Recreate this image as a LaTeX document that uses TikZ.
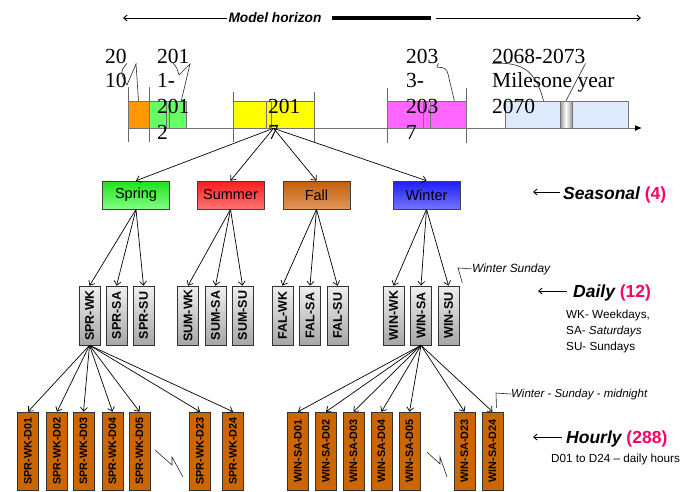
\documentclass[tikz,border=0pt]{standalone}
\usepackage{fontspec}
\setmainfont{Liberation Serif}
\setsansfont{Liberation Sans}
\usetikzlibrary{arrows.meta}

\definecolor{tlorange}{RGB}{255,153,0}
\definecolor{tlgreen}{RGB}{102,255,102}
\definecolor{tlyellow}{RGB}{255,255,0}
\definecolor{tlmagenta}{RGB}{255,102,255}
\definecolor{tlblue}{RGB}{221,235,252}
\definecolor{hourbrown}{RGB}{204,102,0}
\definecolor{countpink}{RGB}{255,0,102}

\tikzset{
    tlbox/.style={draw=black!55, line width=0.6pt, minimum height=27pt, inner sep=0pt},
    seasonbox/.style={draw=black!75, line width=0.6pt, minimum width=67pt, minimum height=28pt, inner sep=0pt, font=\sffamily\fontsize{14.5}{14.5}\selectfont},
    daybox/.style={draw=black!80, line width=0.6pt, rotate=90, minimum width=59pt, minimum height=21pt, inner sep=0pt, top color=gray!12, bottom color=gray!70, font=\sffamily\bfseries\fontsize{12.5}{12.5}\selectfont},
    hourbox/.style={draw=black!80, line width=0.6pt, fill=hourbrown, rotate=90, minimum width=78pt, minimum height=21pt, inner sep=0pt, font=\sffamily\bfseries\fontsize{10.8}{10.8}\selectfont},
    year/.style={anchor=base west, inner sep=0pt, font=\fontsize{21.5}{21.5}\selectfont},
    flow/.style={-{Straight Barb[length=4pt,width=7pt]}, line width=0.7pt},
    hint/.style={-{Straight Barb[length=3.5pt,width=6pt]}, line width=0.9pt},
    callout/.style={black!85, line width=0.6pt},
    levellbl/.style={anchor=base west, inner sep=0pt, font=\sffamily\bfseries\itshape\fontsize{17.5}{17.5}\selectfont},
    note/.style={anchor=base west, inner sep=0pt, font=\sffamily\fontsize{11.7}{11.7}\selectfont}
}

\begin{document}
\begin{tikzpicture}[x=1pt, y=-1pt]
    \useasboundingbox (0,0) rectangle (681,491);

    \node[inner sep=1pt, font=\sffamily\bfseries\itshape\fontsize{13.7}{13.7}\selectfont] (horizon) at (275,18) {Model horizon};
    \coordinate (hzleft) at (123,18);
    \coordinate (hzright) at (641,18);
    \coordinate (barstart) at (332,18);
    \coordinate (barend) at (431,18);
    \coordinate (linestart) at (436,18);
    \draw[hint] (horizon.west) -- (hzleft);
    \draw[line width=3.5pt] (barstart) -- (barend);
    \draw[hint] (linestart) -- (hzright);

    \coordinate (axisstart) at (128,128);
    \coordinate (axisend) at (642,128);
    \draw[black!55, line width=1pt, -{Latex[length=7pt,width=6pt,black]}] (axisstart) -- (axisend);
    \foreach \x/\a/\b in {128/87/142, 149/87/142, 233/92/142, 314/92/142, 387/88/143, 466/88/143}
        \draw[black!60, line width=0.6pt] (\x,\a) -- (\x,\b);

    \node[tlbox, fill=tlorange, minimum width=21pt] (y2010) at (138.5,114.5) {};
    \node[tlbox, fill=tlgreen, minimum width=37pt] (y2011) at (167.5,114.5) {};
    \node[tlbox, fill=tlyellow, minimum width=81pt] (y2017) at (273.5,114.5) {};
    \node[tlbox, fill=tlmagenta, minimum width=79pt] (y2033) at (426.5,114.5) {};
    \node[tlbox, fill=tlblue, minimum width=123pt] (y2068) at (566.5,114.5) {};
    \node[tlbox, fill=tlgreen, minimum width=3pt] (m2012) at (167.5,114.5) {};
    \node[tlbox, fill=tlyellow, minimum width=5pt] (m2017) at (269,114.5) {};
    \node[tlbox, fill=tlmagenta, minimum width=7pt] (m2037) at (427,114.5) {};
    \node[tlbox, left color=gray!80, right color=gray!80, middle color=white, minimum width=12pt] (m2070) at (566,114.5) {};

    \node[year] (t1a) at (105,63) {20};
    \node[year] (t1b) at (105,87) {10};
    \node[year] (t2a) at (157,63) {201};
    \node[year] (t2b) at (157,87) {1-};
    \node[year] (t2c) at (157,113) {201};
    \node[year] (t2d) at (157,139) {2};
    \node[year] (t3a) at (268,113) {201};
    \node[year] (t3b) at (268,139) {7};
    \node[year] (t4a) at (406,63) {203};
    \node[year] (t4b) at (406,87) {3-};
    \node[year] (t4c) at (406,113) {203};
    \node[year] (t4d) at (406,139) {7};
    \node[year] (t5a) at (492,63) {2068-2073};
    \node[year] (t5b) at (492,87) {Milesone year};
    \node[year] (t5c) at (492,113) {2070};

    \draw[callout] (t1a.south east) .. controls (120,72) .. (127,85) -- (136,64) -- ([xshift=0pt]y2010.north);
    \draw[callout] (t2a.south) .. controls (177,68) .. (179,75) -- (190,64) -- ([xshift=-5pt]y2011.north east);
    \draw[callout] (t4a.south east) .. controls (432,72) and (446,62) .. (448,74) -- ([xshift=-12pt]y2033.north east);
    \draw[callout] (t5a.south west) .. controls (520,62) and (535,68) .. ([xshift=-23pt]y2068.north);
    \draw[callout] (t5a.south east) -- (m2070.north);

    \node[seasonbox, top color={rgb,255:red,30;green,225;blue,30}, bottom color={rgb,255:red,130;green,255;blue,130}] (spring) at (136,195) {Spring};
    \node[seasonbox, top color={rgb,255:red,250;green,30;blue,30}, bottom color={rgb,255:red,255;green,115;blue,115}] (summer) at (230.5,195) {Summer};
    \node[seasonbox, top color={rgb,255:red,195;green,95;blue,10}, bottom color={rgb,255:red,225;green,150;blue,90}] (fall) at (316.5,195) {Fall};
    \node[seasonbox, top color={rgb,255:red,30;green,30;blue,250}, bottom color={rgb,255:red,115;green,115;blue,255}] (winter) at (426.5,195) {Winter};
    \foreach \s in {spring, summer, fall, winter}
        \draw[flow] (y2017.south) -- (\s.north);

    \foreach \lbl/\nm/\x/\s in {SPR-WK/sprwk/89.5/spring, SPR-SA/sprsa/116.5/spring, SPR-SU/sprsu/143.5/spring,
        SUM-WK/sumwk/188/summer, SUM-SA/sumsa/215.5/summer, SUM-SU/sumsu/242.5/summer,
        FAL-WK/falwk/282.5/fall, FAL-SA/falsa/310/fall, FAL-SU/falsu/337.5/fall,
        WIN-WK/winwk/393.5/winter, WIN-SA/winsa/421/winter, WIN-SU/winsu/448.5/winter}
    {
        \node[daybox] (\nm) at (\x,315.5) {\lbl};
        \draw[flow] (\s.south) -- (\nm.east);
    }

    \foreach \d/\x in {D01/28, D02/57, D03/83.5, D04/112.5, D05/139.5, D23/200, D24/233}
    {
        \node[hourbox] (spr\d) at (\x,451) {SPR-WK-\d};
        \draw[flow] (sprwk.west) -- (spr\d.east);
    }
    \foreach \d/\x in {D01/298, D02/326, D03/353.5, D04/381.5, D05/409.5, D23/464.5, D24/492.5}
    {
        \node[hourbox] (win\d) at (\x,451) {WIN-SA-\d};
        \draw[flow] (winsa.west) -- (win\d.east);
    }
    \draw[callout] (155,450) -- (172,465) -- (172,457) -- (183,477);
    \draw[callout] (427,452) -- (440,464) -- (440,457) -- (447,477);

    \node[note, font=\sffamily\itshape\fontsize{11.9}{11.9}\selectfont] (sunnote) at (472,272) {Winter Sunday};
    \draw[callout] (sunnote.west) -- ++(-14,-1) -- ([xshift=3pt,yshift=3pt]winsu.south east);
    \node[note, font=\sffamily\itshape\fontsize{11.5}{11.5}\selectfont] (midnote) at (511,397) {Winter - Sunday - midnight};
    \draw[callout] (midnote.west) -- ++(-15,-1) -- ([xshift=4pt,yshift=4pt]winD24.east);

    \node[levellbl] (seaslbl) at (563,199) {Seasonal \textcolor{countpink}{\upshape(4)}};
    \coordinate (seastail) at (560,192);
    \coordinate (seastip) at (533,192);
    \draw[hint] (seastail) -- (seastip);

    \node[levellbl] (dailylbl) at (573,297) {Daily \textcolor{countpink}{\upshape(12)}};
    \coordinate (dailytail) at (567,291);
    \coordinate (dailytip) at (538,291);
    \draw[hint] (dailytail) -- (dailytip);
    \node[note] (wknote) at (566,318) {WK- Weekdays,};
    \node[note] (sanote) at (566,334) {SA- \textit{Saturdays}};
    \node[note] (sunote) at (566,350) {SU- Sundays};

    \node[levellbl] (hourlbl) at (566,443) {Hourly \textcolor{countpink}{\upshape(288)}};
    \coordinate (hourtail) at (562,437);
    \coordinate (hourtip) at (533,437);
    \draw[hint] (hourtail) -- (hourtip);
    \node[note] (hournote) at (551,462) {D01 to D24 -- daily hours};
\end{tikzpicture}
\end{document}
